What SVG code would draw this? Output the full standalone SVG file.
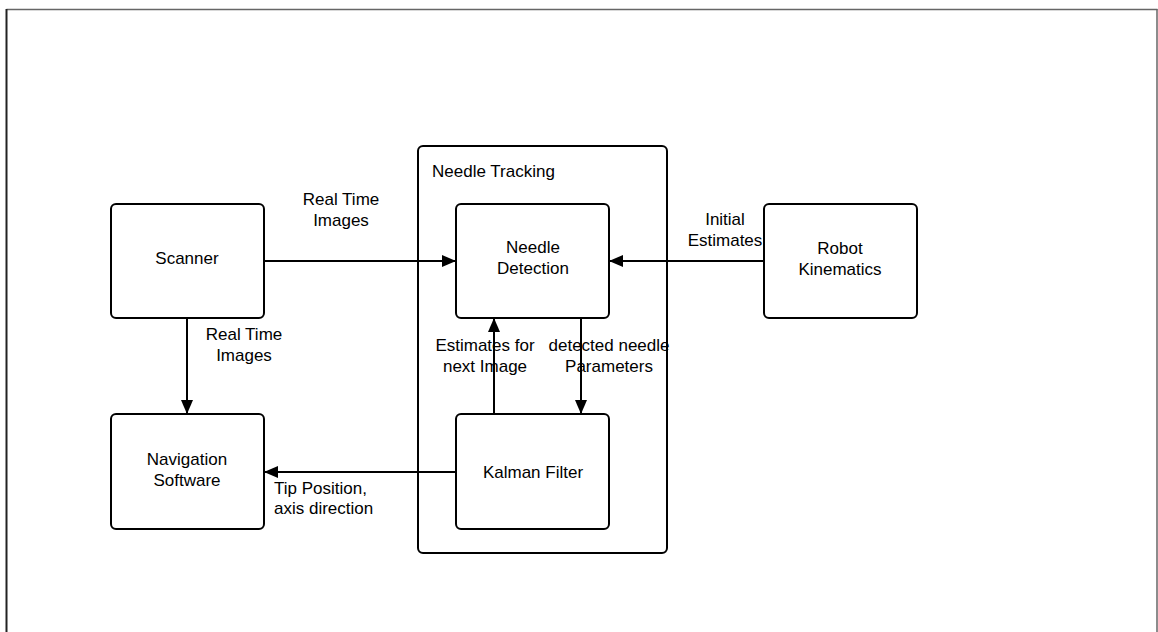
<svg xmlns="http://www.w3.org/2000/svg" width="1158" height="632" viewBox="0 0 1158 632">
<style>
.box{fill:#fff;stroke:#000;stroke-width:2}
.t{font-family:"Liberation Sans",Arial,sans-serif;font-size:17px;fill:#000;text-anchor:middle}
.tl{text-anchor:start}
.c{fill:none;stroke:#000;stroke-width:2}
</style>
<defs>
<marker id="ah" markerUnits="userSpaceOnUse" markerWidth="16" markerHeight="14" refX="14" refY="6" orient="auto">
<path d="M0,0 L14,6 L0,12 Z" fill="#000"/>
</marker>
</defs>
<rect width="1158" height="632" fill="#fff"/>
<g id="frame">
<line x1="6.5" y1="9.5" x2="1157.5" y2="9.5" stroke="#666" stroke-width="1.5"/>
<line x1="6.5" y1="9" x2="6.5" y2="632" stroke="#222" stroke-width="2"/>
<line x1="1157" y1="9" x2="1157" y2="632" stroke="#666" stroke-width="1.5"/>
</g>
<g id="needle-tracking">
<rect class="box" x="418" y="146" width="249" height="407" rx="5"/>
<text class="t tl" x="432" y="177">Needle Tracking</text>
</g>
<g id="scanner">
<rect class="box" x="111" y="204" width="153" height="114" rx="5"/>
<text class="t" x="187" y="264">Scanner</text>
</g>
<g id="needle-detection">
<rect class="box" x="456" y="204" width="153" height="114" rx="5"/>
<text class="t" x="533" y="253">Needle</text>
<text class="t" x="533" y="274">Detection</text>
</g>
<g id="robot-kinematics">
<rect class="box" x="764" y="204" width="153" height="114" rx="5"/>
<text class="t" x="840" y="254">Robot</text>
<text class="t" x="840" y="275">Kinematics</text>
</g>
<g id="navigation-software">
<rect class="box" x="111" y="414" width="153" height="115" rx="5"/>
<text class="t" x="187" y="465">Navigation</text>
<text class="t" x="187" y="486">Software</text>
</g>
<g id="kalman-filter">
<rect class="box" x="456" y="414" width="153" height="115" rx="5"/>
<text class="t" x="533" y="478">Kalman Filter</text>
</g>
<g id="connectors">
<line class="c" x1="264" y1="261" x2="456" y2="261" marker-end="url(#ah)"/>
<line class="c" x1="764" y1="261" x2="609" y2="261" marker-end="url(#ah)"/>
<line class="c" x1="187" y1="318" x2="187" y2="414" marker-end="url(#ah)"/>
<line class="c" x1="456" y1="472" x2="264" y2="472" marker-end="url(#ah)"/>
<line class="c" x1="494" y1="414" x2="494" y2="318" marker-end="url(#ah)"/>
<line class="c" x1="581" y1="318" x2="581" y2="414" marker-end="url(#ah)"/>
<text class="t" x="341" y="205">Real Time</text>
<text class="t" x="341" y="226">Images</text>
<text class="t" x="244" y="340">Real Time</text>
<text class="t" x="244" y="361">Images</text>
<text class="t" x="725" y="225">Initial</text>
<text class="t" x="725" y="246">Estimates</text>
<text class="t" x="485" y="351">Estimates for</text>
<text class="t" x="485" y="372">next Image</text>
<text class="t" x="609" y="351">detected needle</text>
<text class="t" x="609" y="372">Parameters</text>
<text class="t tl" x="274" y="494">Tip Position,</text>
<text class="t tl" x="274" y="514">axis direction</text>
</g>
</svg>
